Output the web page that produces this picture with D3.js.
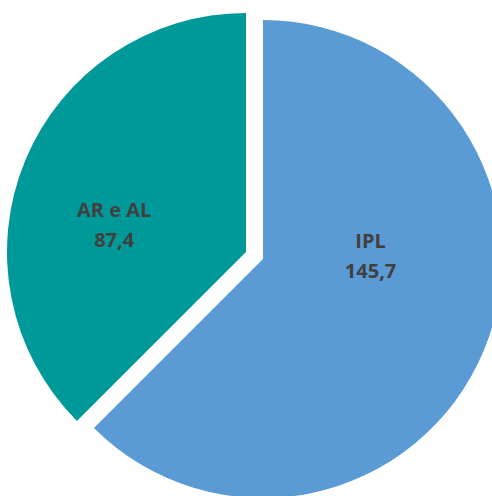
<!DOCTYPE html>
<html>
<head>
<meta charset="utf-8">
<script src="https://cdn.jsdelivr.net/npm/d3@7"></script>
<style>
  body { margin: 0; background: #fff; }
  svg { display: block; }
  .lbl { font-family: "Open Sans", sans-serif; font-weight: bold; font-size: 20px; fill: #404040; }
</style>
</head>
<body>
<div id="chart"></div>
<script>
// slice data, clockwise from 12 o'clock
var categories = ["IPL", "AR e AL"];
var values = [145.7, 87.4];
var labels = ["145,7", "87,4"];
var colors = ["#5b9bd5", "#009999"];

var width = 492, height = 496;
var cx = 254.5, cy = 255.5;
var radius = 239;
var explode = 9.2;
// where the labels sit inside each slice (angle shift in rad, fraction of radius)
var labelPos = [{shift: -0.38, k: 0.45}, {shift: -0.22, k: 0.56}];

var data = categories.map(function(c, i) {
    return {name: c, val: values[i], label: labels[i], color: colors[i]};
});

var svg = d3.select("#chart").append("svg")
    .attr("width", width)
    .attr("height", height);

var pie = d3.pie()
    .sort(null)
    .value(function(d) { return d.val; });

var arc = d3.arc()
    .innerRadius(0)
    .outerRadius(radius);

var slices = svg.append("g")
    .attr("transform", "translate(" + cx + "," + cy + ")")
    .selectAll(".slice")
    .data(pie(data))
    .enter().append("g")
    .attr("class", "slice")
    .attr("transform", function(d) {
        var a = (d.startAngle + d.endAngle) / 2;
        return "translate(" + (Math.sin(a) * explode) + "," + (-Math.cos(a) * explode) + ")";
    });

slices.append("path")
    .attr("d", arc)
    .style("fill", function(d) { return d.data.color; });

var text = slices.append("text")
    .attr("class", "lbl")
    .attr("text-anchor", "middle")
    .attr("transform", function(d, i) {
        var a = (d.startAngle + d.endAngle) / 2 + labelPos[i].shift,
            r = radius * labelPos[i].k;
        return "translate(" + (Math.sin(a) * r) + "," + (-Math.cos(a) * r) + ")";
    });

text.append("tspan")
    .attr("x", 0)
    .attr("y", -12)
    .text(function(d) { return d.data.name; });

text.append("tspan")
    .attr("x", 0)
    .attr("y", 18)
    .text(function(d) { return d.data.label; });
</script>
</body>
</html>
